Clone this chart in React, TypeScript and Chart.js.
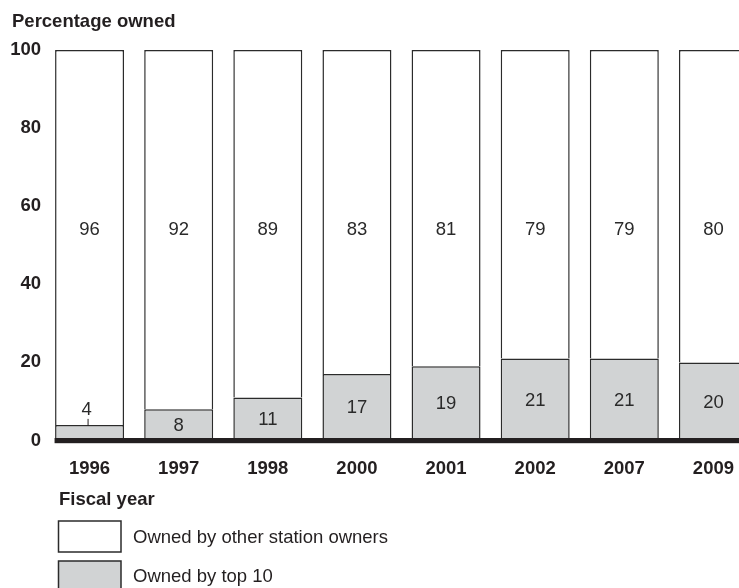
import React, { useEffect, useRef } from "react";
import { Chart, registerables } from "chart.js";

Chart.register(...registerables);

const years = ["1996", "1997", "1998", "2000", "2001", "2002", "2007", "2009"];
const top10 = [4, 8, 11, 17, 19, 21, 21, 20];
const others = [96, 92, 89, 83, 81, 79, 79, 80];
const yTicks = [0, 20, 40, 60, 80, 100];

const yTitle = "Percentage owned";
const xTitle = "Fiscal year";
const othersLabel = "Owned by other station owners";
const top10Label = "Owned by top 10";

const FONT = "'Liberation Sans', Arial, Helvetica, sans-serif";
const INK = "#231f20";
const GRAY = "#d1d3d4";
const OUTLINE = "#2b2b2b";

// Label position for the "other owners" numbers (shared level across bars)
const OTHERS_LABEL_LEVEL = 54;

const annotations = {
  id: "annotations",
  afterDatasetsDraw(chart: any) {
    const { ctx, scales } = chart;
    const y = scales.y;
    const m0 = chart.getDatasetMeta(0);
    const m1 = chart.getDatasetMeta(1);

    ctx.save();
    // heavy baseline at zero
    const firstBar = m0.data[0];
    const left = firstBar.x - firstBar.width / 2 - 0.5;
    const y0 = y.getPixelForValue(0);
    ctx.fillStyle = INK;
    ctx.fillRect(left, y0 - 2.5, chart.width - left, 5.2);

    ctx.font = `18.5px ${FONT}`;
    ctx.fillStyle = "#2a2a2a";
    ctx.textAlign = "center";
    ctx.textBaseline = "middle";

    top10.forEach((v, i) => {
      const bar = m0.data[i];
      const yTop = y.getPixelForValue(v);
      if (v < 6) {
        // small segment: label sits above with a leader tick
        ctx.fillText(String(v), bar.x - 3, yTop - 15);
        ctx.strokeStyle = INK;
        ctx.lineWidth = 1;
        ctx.beginPath();
        ctx.moveTo(bar.x - 1.5, yTop - 6);
        ctx.lineTo(bar.x - 1.5, yTop + 1);
        ctx.stroke();
      } else {
        ctx.fillText(String(v), bar.x, (yTop + y0) / 2 + 1);
      }
    });

    others.forEach((v, i) => {
      const bar = m1.data[i];
      ctx.fillText(String(v), bar.x, y.getPixelForValue(OTHERS_LABEL_LEVEL));
    });

    // axis titles and legend
    ctx.fillStyle = INK;
    ctx.textAlign = "left";
    ctx.textBaseline = "alphabetic";
    ctx.font = `bold 18.5px ${FONT}`;
    ctx.fillText(yTitle, 12, 27);
    ctx.fillText(xTitle, 59, 505);

    const items = [
      { label: othersLabel, fill: "#ffffff", top: 521, base: 542.7 },
      { label: top10Label, fill: GRAY, top: 561, base: 581.7 },
    ];
    ctx.font = `18.5px ${FONT}`;
    items.forEach((it) => {
      ctx.fillStyle = it.fill;
      ctx.fillRect(58.5, it.top, 62.5, 31);
      ctx.strokeStyle = OUTLINE;
      ctx.lineWidth = 1.5;
      ctx.strokeRect(58.5, it.top, 62.5, 31);
      ctx.fillStyle = INK;
      ctx.fillText(it.label, 133, it.base);
    });
    ctx.restore();
  },
};

export default function App() {
  const ref = useRef<HTMLCanvasElement | null>(null);

  useEffect(() => {
    if (!ref.current) return;
    const chart = new Chart(ref.current, {
      type: "bar",
      data: {
        labels: years,
        datasets: [
          {
            label: top10Label,
            data: top10,
            backgroundColor: GRAY,
            borderColor: OUTLINE,
            borderWidth: 1.5,
            barPercentage: 1,
            categoryPercentage: 0.774,
          },
          {
            label: othersLabel,
            data: others,
            backgroundColor: "#ffffff",
            borderColor: OUTLINE,
            borderWidth: 1.5,
            barPercentage: 1,
            categoryPercentage: 0.774,
          },
        ],
      },
      options: {
        responsive: false,
        animation: false,
        devicePixelRatio: 1,
        layout: { padding: { top: 50, left: 0, right: 2, bottom: 0 } },
        plugins: {
          legend: { display: false },
          title: { display: false },
          tooltip: { enabled: false },
        },
        scales: {
          x: {
            stacked: true,
            grid: { display: false, drawTicks: false },
            border: { display: false },
            ticks: {
              color: INK,
              font: { family: FONT, size: 18.5, weight: "bold" },
              padding: 17,
            },
            afterFit: (s: any) => {
              s.height = 147.5;
            },
          },
          y: {
            stacked: true,
            min: 0,
            max: 100,
            afterBuildTicks: (s: any) => {
              s.ticks = yTicks.map((v) => ({ value: v }));
            },
            grid: { display: false, drawTicks: false },
            border: { display: false },
            ticks: {
              color: INK,
              font: { family: FONT, size: 18.5, weight: "bold" },
              padding: 4,
            },
            afterFit: (s: any) => {
              s.width = 45;
            },
          },
        },
      },
      plugins: [annotations],
    });
    return () => chart.destroy();
  }, []);

  return (
    <div
      style={{
        position: "fixed",
        left: 0,
        top: 0,
        width: 739,
        height: 588,
        overflow: "hidden",
        background: "#ffffff",
      }}
    >
      <canvas ref={ref} width={760} height={588} style={{ display: "block" }} />
    </div>
  );
}
